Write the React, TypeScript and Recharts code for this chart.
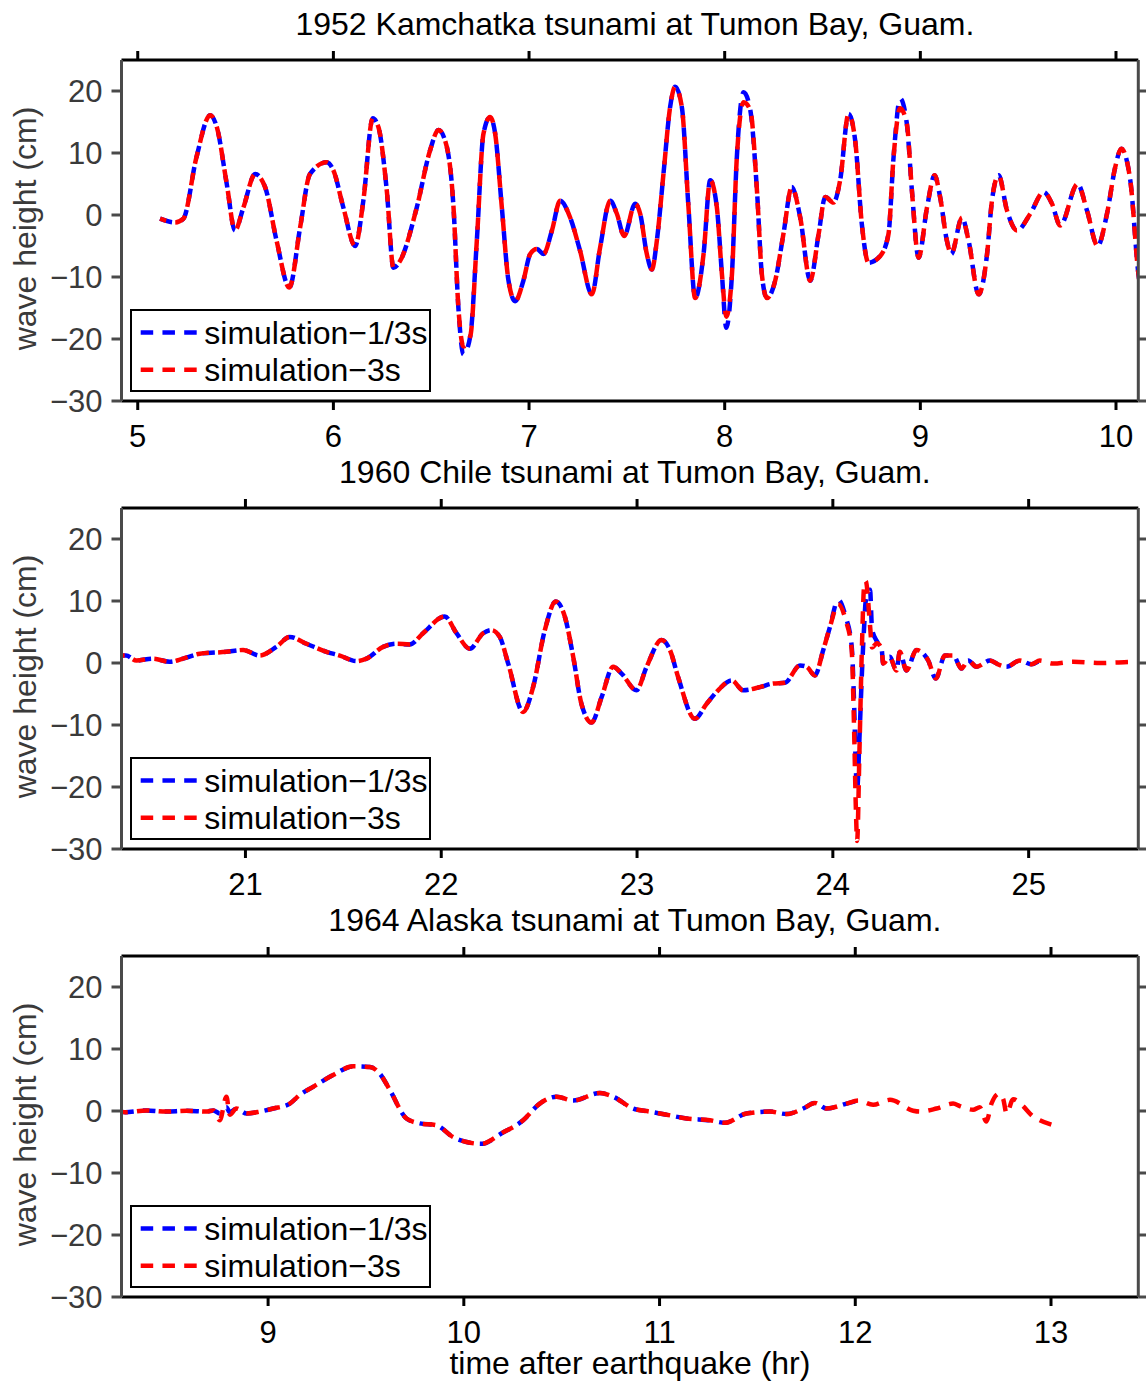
import { Label, Legend, Line, LineChart, XAxis, YAxis } from "recharts"

const FONT = "'Liberation Sans', Arial, Helvetica, sans-serif"
const AXIS_GRAY = "#4a4a4a"

const seriesNames = ["simulation\u22121/3s", "simulation\u22123s"]
const seriesColors = ["#0000ff", "#ff0000"]
const heightTicks = [-30, -20, -10, 0, 10, 20]

// 1952 Kamchatka
const kamTicks = [5, 6, 7, 8, 9, 10]
const kamTime = [
    5.114, 5.19, 5.233, 5.3, 5.37, 5.404, 5.455, 5.497, 5.54, 5.6,
    5.651, 5.71, 5.775, 5.83, 5.88, 5.966, 6.0, 6.051, 6.111, 6.153,
    6.201, 6.23, 6.273, 6.307, 6.341, 6.426, 6.494, 6.537, 6.571, 6.614,
    6.639, 6.665, 6.7, 6.733, 6.767, 6.801, 6.827, 6.861, 6.895, 6.929,
    6.971, 7.006, 7.04, 7.074, 7.117, 7.159, 7.21, 7.261, 7.321, 7.363,
    7.415, 7.449, 7.486, 7.542, 7.568, 7.602, 7.628, 7.653, 7.687, 7.721,
    7.747, 7.781, 7.815, 7.849, 7.892, 7.926, 7.96, 7.986, 8.008, 8.037,
    8.062, 8.097, 8.131, 8.165, 8.19, 8.216, 8.258, 8.3, 8.343, 8.386,
    8.437, 8.48, 8.514, 8.556, 8.59, 8.633, 8.667, 8.701, 8.735, 8.795,
    8.837, 8.863, 8.897, 8.931, 8.957, 8.991, 9.034, 9.073, 9.101, 9.136,
    9.158, 9.213, 9.247, 9.298, 9.341, 9.366, 9.4, 9.443, 9.494, 9.562,
    9.63, 9.673, 9.715, 9.804, 9.852, 9.906, 9.954, 9.996, 10.027, 10.073,
    10.115, 10.14,
]
const kamFine = [
    -0.6, -1.2, -0.6, 9.3, 16.1, 14.2, 5.0, -2.5, 1.2, 6.6,
    4.5, -4.2, -11.7, -2.0, 6.6, 8.5, 7.2, 1.2, -5.0, 2.3,
    15.6, 14.2, 3.9, -8.5, -7.4, 1.2, 10.4, 13.7, 12.0, 1.2,
    -15, -22.5, -19.5, -4.2, 13.1, 15.8, 13.1, 1.2, -10.6, -13.9,
    -10.6, -6.3, -5.5, -6.3, -2.5, 2.3, -0.4, -5.8, -12.8, -5.3,
    2.3, 0.2, -3.4, 1.8, 0.2, -6.3, -8.8, -4.2, 6.6, 17.4,
    20.7, 17.4, 1.2, -13.4, -6.3, 5.6, 1.2, -9.6, -18.2, -9.6,
    9.3, 19.8, 16.9, 3.9, -9.6, -13.4, -10.6, -3.1, 4.5, -0.4,
    -10.6, -3.1, 2.9, 2.0, 5.6, 16.3, 12.0, -1.5, -7.7, -6.6,
    -3.1, 9.3, 18.8, 14.7, 3.9, -6.9, 1.2, 6.4, 2.9, -4.2,
    -6.3, -0.4, -4.2, -12.8, -6.3, 2.3, 6.4, 0.7, -2.5, 0.2,
    3.7, 1.8, -1.7, 5.0, 0.7, -5.0, 0.2, 7.7, 10.7, 5.6,
    -9.6, -14,
]
const kamCoarse = [
    -0.6, -1.2, -0.6, 9.3, 16.1, 14.2, 5.0, -2.5, 1.2, 6.6,
    4.5, -4.2, -11.7, -2.0, 6.6, 8.5, 7.2, 1.2, -5.0, 2.3,
    15.6, 14.2, 3.9, -8.5, -7.4, 1.2, 10.4, 13.7, 12.0, 1.2,
    -15, -21.2, -19.5, -4.2, 13.1, 15.8, 13.1, 1.2, -10.6, -13.9,
    -10.6, -6.3, -5.5, -6.3, -2.5, 2.3, -0.4, -5.8, -12.8, -5.3,
    2.3, 0.2, -3.4, 1.8, 0.2, -6.3, -8.8, -4.2, 6.6, 17.4,
    20.7, 17.4, 1.2, -13.4, -6.3, 5.6, 1.2, -9.6, -16.4, -9.6,
    9.3, 18.2, 16.9, 3.9, -9.6, -13.4, -10.6, -3.1, 4.5, -0.4,
    -10.6, -3.1, 2.9, 2.0, 5.6, 16.3, 12.0, -1.5, -7.7, -6.6,
    -3.1, 9.3, 17.2, 14.7, 3.9, -6.9, 1.2, 6.4, 2.9, -4.2,
    -6.3, -0.4, -4.2, -12.8, -6.3, 2.3, 6.4, 0.7, -2.5, 0.2,
    3.7, 1.8, -1.7, 5.0, 0.7, -5.0, 0.2, 7.7, 10.7, 5.6,
    -9.6, -14,
]

// 1960 Chile
const chileTicks = [21, 22, 23, 24, 25]
const chileTime = [
    20.35, 20.39, 20.443, 20.528, 20.613, 20.681, 20.767, 20.903, 20.988, 21.073,
    21.158, 21.226, 21.312, 21.414, 21.482, 21.567, 21.618, 21.703, 21.771, 21.839,
    21.907, 22.018, 22.078, 22.146, 22.214, 22.257, 22.299, 22.342, 22.418, 22.469,
    22.529, 22.585, 22.631, 22.674, 22.716, 22.768, 22.819, 22.878, 22.921, 22.997,
    23.049, 23.125, 23.168, 23.21, 23.295, 23.355, 23.414, 23.483, 23.542, 23.627,
    23.695, 23.755, 23.832, 23.866, 23.908, 23.951, 23.985, 24.027, 24.065, 24.096,
    24.108, 24.118, 24.124, 24.136, 24.148, 24.16, 24.168, 24.19, 24.2, 24.225,
    24.249, 24.257, 24.29, 24.325, 24.342, 24.376, 24.427, 24.487, 24.526, 24.572,
    24.615, 24.657, 24.691, 24.734, 24.802, 24.85, 24.887, 24.955, 25.015, 25.057,
    25.125, 25.228, 25.364, 25.46, 25.57,
]
const chileFine = [
    1.2, 1.2, 0.4, 0.7, 0.2, 0.7, 1.5, 1.8, 2.1, 1.2,
    2.6, 4.2, 3.1, 1.8, 1.2, 0.3, 0.7, 2.6, 3.1, 3.0,
    4.8, 7.5, 4.8, 2.3, 4.8, 5.3, 4.2, -0.1, -7.9, -3.9,
    5.3, 9.9, 7.5, 1.0, -6.6, -9.6, -5.5, -0.6, -1.7, -4.4,
    -0.6, 3.7, 2.1, -2.3, -9.0, -6.6, -4.4, -2.8, -4.4, -3.9,
    -3.3, -3.2, -0.4, -0.6, -2.0, 2.1, 5.8, 10.2, 7.5, 2.8,
    -6, -17.5, -20.5, -12, -2, 6, 10, 11.8, 5.5, 3.5,
    2.3, -0.1, 1.0, -1.2, 1.8, -1.2, 2.1, 0.4, -2.5, 1.2,
    1.2, -0.9, 0.4, -0.6, 0.4, -0.3, -0.6, 0.4, -0.2, 0.4,
    null, null, null, null, null,
]
const chileCoarse = [
    1.2, 1.2, 0.4, 0.7, 0.2, 0.7, 1.5, 1.8, 2.1, 1.2,
    2.6, 4.2, 3.1, 1.8, 1.2, 0.3, 0.7, 2.6, 3.1, 3.0,
    4.8, 7.5, 4.8, 2.3, 4.8, 5.3, 4.2, -0.1, -7.9, -3.9,
    5.3, 9.9, 7.5, 1.0, -6.6, -9.6, -5.5, -0.6, -1.7, -4.4,
    -0.6, 3.7, 2.1, -2.3, -9.0, -6.6, -4.4, -2.8, -4.4, -3.9,
    -3.3, -3.2, -0.4, -0.6, -2.0, 2.1, 5.8, 9.5, 7.0, 2.2,
    -10, -24, -28.7, -14, 2, 12.5, 13.2, 6, 2.5, 3.2,
    2.3, -0.1, 1.0, -1.2, 1.8, -1.2, 2.1, 0.4, -2.5, 1.2,
    1.2, -0.9, 0.4, -0.6, 0.4, -0.3, -0.6, 0.4, -0.2, 0.4,
    -0.1, 0.2, 0.0, 0.1, 0.2,
]

// 1964 Alaska
const alaskaTicks = [9, 10, 11, 12, 13]
const alaskaTime = [
    8.25, 8.27, 8.379, 8.48, 8.583, 8.685, 8.72, 8.753, 8.787, 8.804,
    8.838, 8.89, 8.958, 9.026, 9.111, 9.162, 9.23, 9.332, 9.434, 9.52,
    9.571, 9.622, 9.707, 9.775, 9.86, 9.945, 10.014, 10.09, 10.193, 10.303,
    10.388, 10.474, 10.559, 10.695, 10.763, 10.865, 10.95, 11.036, 11.138, 11.257,
    11.334, 11.444, 11.564, 11.649, 11.734, 11.794, 11.853, 11.956, 12.015, 12.091,
    12.177, 12.296, 12.33, 12.415, 12.5, 12.534, 12.602, 12.636, 12.67, 12.696,
    12.735, 12.756, 12.773, 12.807, 12.85, 12.909, 12.943, 13.011,
]
const alaskaFine = [
    -0.1, -0.2, 0.1, -0.1, 0.05, -0.1, 0.1, -0.4, 0.6, -0.2,
    0.4, -0.4, -0.1, 0.4, 1.2, 2.6, 3.9, 5.8, 7.2, 7.1,
    6.0, 3.4, -1.2, -2.0, -2.3, -4.2, -5.0, -5.3, -3.6, -1.5,
    1.2, 2.3, 1.7, 2.9, 2.3, 0.4, -0.1, -0.6, -1.2, -1.5,
    -1.9, -0.4, -0.1, -0.5, 0.4, 1.3, 0.4, 1.2, 1.7, null,
    null, null, null, null, null, null, null, null, null, null,
    null, null, null, null, null, null, null, null,
]
const alaskaCoarse = [
    -0.1, -0.2, 0.1, -0.1, 0.05, -0.1, 0.1, -1.5, 2.3, -0.6,
    0.4, -0.4, -0.1, 0.4, 1.2, 2.6, 3.9, 5.8, 7.2, 7.1,
    6.0, 3.4, -1.2, -2.0, -2.3, -4.2, -5.0, -5.3, -3.6, -1.5,
    1.2, 2.3, 1.7, 2.9, 2.3, 0.4, -0.1, -0.6, -1.2, -1.5,
    -1.9, -0.4, -0.1, -0.5, 0.4, 1.3, 0.4, 1.2, 1.7, 1.0,
    1.8, 0.05, -0.1, 0.4, 1.2, 0.8, 0.2, 0.6, -1.7, 1.2,
    2.8, 1.9, -0.4, 1.9, 1.0, -0.9, -1.5, -2.3,
]

type Val = number | null

interface PanelProps {
    title: string
    time: number[]
    fine: Val[]
    coarse: Val[]
    domain: [number, number]
    ticks: number[]
    height: number
    xLabel?: string
}

const fmtHeight = (v: number) => (v < 0 ? `\u2212${Math.abs(v)}` : `${v}`)
const blank = () => ""

const renderLegend = (props: any) => {
    const payload: any[] = props?.payload ?? []
    const items = payload.length
        ? payload
        : seriesNames.map((n, i) => ({ value: n, color: seriesColors[i] }))
    return (
        <svg width={301} height={83} style={{ display: "block" }}>
            <rect x={1} y={1} width={299} height={81} fill="#fff" stroke="#000" strokeWidth={2} />
            {items.map((item, i) => (
                <g key={i}>
                    <line
                        x1={10.7}
                        x2={66.7}
                        y1={23.4 + i * 37.3}
                        y2={23.4 + i * 37.3}
                        stroke={item.color}
                        strokeWidth={4.5}
                        strokeDasharray="12.5 9.25"
                    />
                    <text x={74.3} y={35 + i * 37.3} fontFamily={FONT} fontSize={32} fill="#000">
                        {item.value}
                    </text>
                </g>
            ))}
        </svg>
    )
}

function Panel({ title, time, fine, coarse, domain, ticks, height, xLabel }: PanelProps) {
    const rows = time.map((t, i) => ({ t, fine: fine[i], coarse: coarse[i] }))
    const bottomHeight = height - 401

    return (
        <LineChart
            width={1146}
            height={height}
            data={rows}
            margin={{ top: 50, right: 0, bottom: 0, left: 0 }}
        >
            <XAxis
                xAxisId="top"
                orientation="top"
                type="number"
                dataKey="t"
                domain={domain}
                allowDataOverflow
                ticks={ticks}
                interval={0}
                height={10}
                tickSize={9}
                tickFormatter={blank}
                axisLine={{ stroke: "#000", strokeWidth: 3 }}
                tickLine={{ stroke: "#000", strokeWidth: 3 }}
            >
                <Label
                    content={(p: any) => {
                        const vb = p?.viewBox ?? { x: 121.5, y: 50, width: 1016.8 }
                        return (
                            <text
                                x={vb.x + vb.width / 2 + 5}
                                y={vb.y - 15.5}
                                textAnchor="middle"
                                fontFamily={FONT}
                                fontSize={32}
                                fill="#000"
                            >
                                {title}
                            </text>
                        )
                    }}
                />
            </XAxis>
            <XAxis
                type="number"
                dataKey="t"
                domain={domain}
                allowDataOverflow
                ticks={ticks}
                interval={0}
                height={bottomHeight}
                tickSize={9}
                tickMargin={15}
                tick={{ fill: "#000", fontSize: 31, fontFamily: FONT }}
                axisLine={{ stroke: "#000", strokeWidth: 3 }}
                tickLine={{ stroke: "#000", strokeWidth: 3 }}
            >
                {xLabel && (
                    <Label
                        content={(p: any) => {
                            const vb = p?.viewBox ?? { x: 121.5, y: 401, width: 1016.8 }
                            return (
                                <text
                                    x={vb.x + vb.width / 2}
                                    y={vb.y + 77}
                                    textAnchor="middle"
                                    fontFamily={FONT}
                                    fontSize={32}
                                    fill="#000"
                                >
                                    {xLabel}
                                </text>
                            )
                        }}
                    />
                )}
            </XAxis>
            <YAxis
                type="number"
                domain={[-30, 25]}
                allowDataOverflow
                ticks={heightTicks}
                interval={0}
                width={121.5}
                tickSize={10}
                tickMargin={9}
                tickFormatter={fmtHeight}
                tick={{ fill: "#3a3a3a", fontSize: 31, fontFamily: FONT }}
                axisLine={{ stroke: AXIS_GRAY, strokeWidth: 3 }}
                tickLine={{ stroke: AXIS_GRAY, strokeWidth: 3 }}
            >
                <Label
                    content={(p: any) => {
                        const vb = p?.viewBox ?? { y: 60, height: 341 }
                        const cy = vb.y + vb.height / 2 - 2
                        return (
                            <text
                                x={36}
                                y={cy}
                                transform={`rotate(-90 36 ${cy})`}
                                textAnchor="middle"
                                fontFamily={FONT}
                                fontSize={32}
                                fill="#3a3a3a"
                            >
                                wave height (cm)
                            </text>
                        )
                    }}
                />
            </YAxis>
            <YAxis
                yAxisId="right"
                orientation="right"
                type="number"
                domain={[-30, 25]}
                allowDataOverflow
                ticks={heightTicks}
                interval={0}
                width={7.7}
                tickSize={10}
                tickFormatter={blank}
                axisLine={{ stroke: AXIS_GRAY, strokeWidth: 3 }}
                tickLine={{ stroke: AXIS_GRAY, strokeWidth: 3 }}
            />
            <Legend
                layout="vertical"
                align="center"
                verticalAlign="middle"
                content={renderLegend}
                wrapperStyle={{ left: 130, top: 309, width: 301, height: 83 }}
            />
            <Line
                dataKey="fine"
                name={seriesNames[0]}
                type="monotone"
                stroke={seriesColors[0]}
                strokeWidth={4.5}
                strokeDasharray="12.5 9.25"
                dot={false}
                activeDot={false}
                isAnimationActive={false}
            />
            <Line
                dataKey="coarse"
                name={seriesNames[1]}
                type="monotone"
                stroke={seriesColors[1]}
                strokeWidth={4.5}
                strokeDasharray="12.5 9.25"
                strokeDashoffset={6}
                dot={false}
                activeDot={false}
                isAnimationActive={false}
            />
        </LineChart>
    )
}

function App() {
    return (
        <div
            style={{
                position: "absolute",
                left: 0,
                top: 0,
                width: 1146,
                height: 1383,
                background: "#fff",
                fontFamily: FONT,
            }}
        >
            <style>{`.recharts-surface { overflow: visible; }`}</style>
            <Panel
                title="1952 Kamchatka tsunami at Tumon Bay, Guam."
                time={kamTime}
                fine={kamFine}
                coarse={kamCoarse}
                domain={[4.917, 10.114]}
                ticks={kamTicks}
                height={448}
            />
            <Panel
                title="1960 Chile tsunami at Tumon Bay, Guam."
                time={chileTime}
                fine={chileFine}
                coarse={chileCoarse}
                domain={[20.367, 25.56]}
                ticks={chileTicks}
                height={448}
            />
            <Panel
                title="1964 Alaska tsunami at Tumon Bay, Guam."
                time={alaskaTime}
                fine={alaskaFine}
                coarse={alaskaCoarse}
                domain={[8.251, 13.446]}
                ticks={alaskaTicks}
                height={487}
                xLabel="time after earthquake (hr)"
            />
        </div>
    )
}

export default App
